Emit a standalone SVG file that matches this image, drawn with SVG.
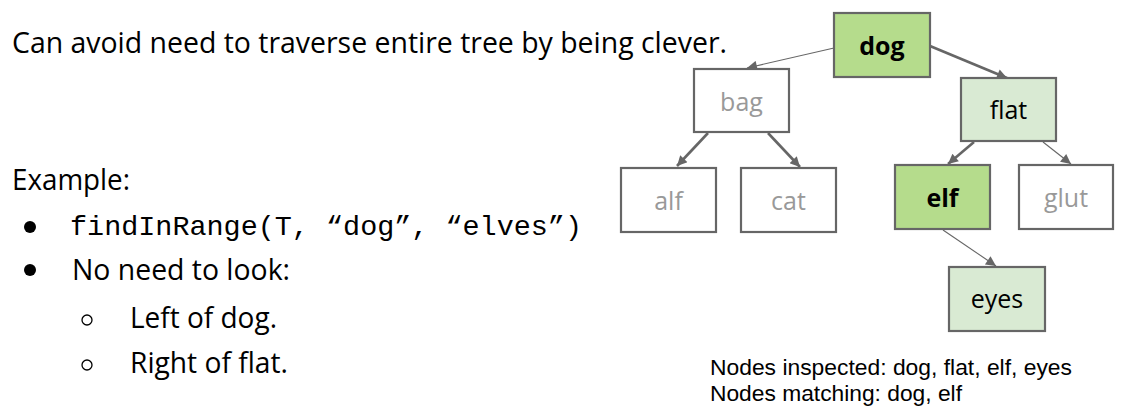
<svg xmlns="http://www.w3.org/2000/svg" width="1128" height="414" viewBox="0 0 1128 414">
<style>
.txt{font-family:"Open Sans","Noto Sans",sans-serif;font-size:29px;fill:#000}
.mono{font-family:"Liberation Mono","DejaVu Sans Mono",monospace;font-size:28px;fill:#000}
.note{font-family:"Liberation Sans",Arial,sans-serif;font-size:22.5px;fill:#000}
.box{stroke:#666;stroke-width:2.2}
.white{fill:#fff}
.dark{fill:#b5dc8c}
.light{fill:#d9ead3}
.lbl{font-family:"Open Sans","Noto Sans",sans-serif;font-size:25px;text-anchor:middle}
.gray{fill:#999}
.blk{fill:#000}
.bold{font-weight:bold}
.edge{stroke:#666;fill:none}
.thin{stroke-width:1.1}
.thick{stroke-width:2.6}
</style>
<defs>
<marker id="ah" viewBox="0 0 10 10" refX="10" refY="5" markerWidth="12" markerHeight="10" markerUnits="userSpaceOnUse" orient="auto">
<path d="M0,0 L10,5 L0,10 Z" fill="#666"/>
</marker>
</defs>
<rect width="1128" height="414" fill="#fff"/>

<g id="text-left">
<text class="txt" x="12" y="53" textLength="715" lengthAdjust="spacingAndGlyphs">Can avoid need to traverse entire tree by being clever.</text>
<text class="txt" x="12" y="190" textLength="118" lengthAdjust="spacingAndGlyphs">Example:</text>
<circle cx="30" cy="227" r="6" fill="#000"/>
<text class="mono" x="70" y="235" textLength="512" lengthAdjust="spacingAndGlyphs">findInRange(T, “dog”, “elves”)</text>
<circle cx="30" cy="270" r="6" fill="#000"/>
<text class="txt" x="72" y="280" textLength="218" lengthAdjust="spacingAndGlyphs">No need to look:</text>
<circle cx="87" cy="320" r="5" fill="none" stroke="#000" stroke-width="1.3"/>
<text class="txt" x="130" y="328" textLength="147" lengthAdjust="spacingAndGlyphs">Left of dog.</text>
<circle cx="87" cy="365" r="5" fill="none" stroke="#000" stroke-width="1.3"/>
<text class="txt" x="130" y="373" textLength="158" lengthAdjust="spacingAndGlyphs">Right of flat.</text>
</g>

<g id="connectors">
<line class="edge thin" x1="834" y1="48" x2="747" y2="68" marker-end="url(#ah)"/>
<line class="edge thick" x1="930" y1="46" x2="1007" y2="78" marker-end="url(#ah)"/>
<line class="edge thick" x1="708" y1="133" x2="677" y2="166" marker-end="url(#ah)"/>
<line class="edge thick" x1="768" y1="133" x2="800" y2="167" marker-end="url(#ah)"/>
<line class="edge thick" x1="974" y1="142" x2="948" y2="164" marker-end="url(#ah)"/>
<line class="edge thin" x1="1043" y1="142" x2="1071" y2="164" marker-end="url(#ah)"/>
<line class="edge thin" x1="943" y1="230" x2="996" y2="266" marker-end="url(#ah)"/>
</g>

<g id="node-dog">
<rect class="box dark" x="834" y="13" width="96" height="64"/>
<text class="lbl blk bold" x="882" y="55">dog</text>
</g>
<g id="node-bag">
<rect class="box white" x="694" y="69" width="95" height="63"/>
<text class="lbl gray" x="741.5" y="111">bag</text>
</g>
<g id="node-flat">
<rect class="box light" x="961" y="78" width="95" height="63"/>
<text class="lbl blk" x="1008.5" y="119">flat</text>
</g>
<g id="node-alf">
<rect class="box white" x="621" y="168" width="95" height="64"/>
<text class="lbl gray" x="668.5" y="210">alf</text>
</g>
<g id="node-cat">
<rect class="box white" x="741" y="168" width="95" height="64"/>
<text class="lbl gray" x="788.5" y="210">cat</text>
</g>
<g id="node-elf">
<rect class="box dark" x="895" y="165" width="95" height="64"/>
<text class="lbl blk bold" x="942.5" y="207">elf</text>
</g>
<g id="node-glut">
<rect class="box white" x="1019" y="165" width="94" height="64"/>
<text class="lbl gray" x="1066" y="207">glut</text>
</g>
<g id="node-eyes">
<rect class="box light" x="949" y="267" width="96" height="64"/>
<text class="lbl blk" x="997" y="308">eyes</text>
</g>

<g id="notes">
<text class="note" x="710" y="375" textLength="362" lengthAdjust="spacingAndGlyphs">Nodes inspected: dog, flat, elf, eyes</text>
<text class="note" x="710" y="401" textLength="252" lengthAdjust="spacingAndGlyphs">Nodes matching: dog, elf</text>
</g>
</svg>
